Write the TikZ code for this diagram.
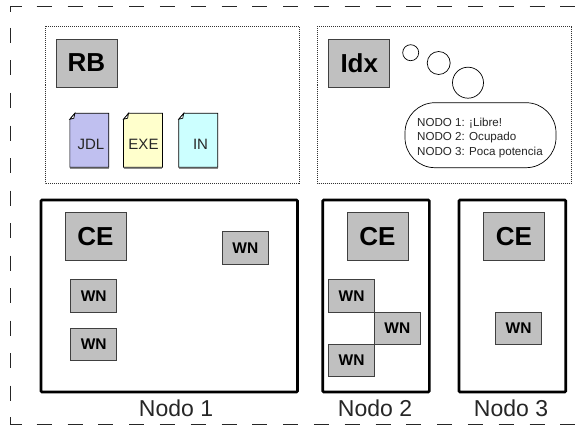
\documentclass[tikz,border=0pt]{standalone}
\usepackage{fontspec}
\setmainfont{Liberation Sans}
\definecolor{boxgray}{HTML}{C0C0C0}
\definecolor{docblue}{HTML}{C0C0F0}
\definecolor{docyellow}{HTML}{FFFFCC}
\definecolor{doccyan}{HTML}{CCFFFF}
\definecolor{inkgray}{HTML}{404040}
\tikzset{
  x=1pt,y=-1pt,
  outerbase/.style={draw=black!85,line width=0.8pt},
  outerh/.style={outerbase,dash pattern=on 15pt off 15.8pt},
  outerv/.style={outerbase,dash pattern=on 15pt off 17.5pt},
  dotframe/.style={draw=black!80,line width=0.7pt,dash pattern=on 1pt off 1pt},
  hostbox/.style={draw=black,line width=2.6pt,rounded corners=1pt},
  bigbox/.style={draw=inkgray,line width=0.8pt,fill=boxgray,inner sep=0pt,minimum width=61pt,minimum height=48pt,font=\fontsize{26}{26}\selectfont\bfseries},
  wnbox/.style={draw=inkgray,line width=0.8pt,fill=boxgray,inner sep=0pt,minimum width=46pt,minimum height=32.5pt,font=\fontsize{15.5}{15.5}\selectfont\bfseries},
  docbox/.style={inner sep=0pt,minimum width=38.5pt,minimum height=53.5pt},
  doclabel/.style={inner sep=0pt,font=\fontsize{15}{15}\selectfont,text=black!85},
  docedge/.style={draw=black,line width=0.7pt},
  docshadow/.style={draw=black!45,line width=1pt},
  hostlabel/.style={inner sep=0pt,font=\fontsize{23}{23}\selectfont,text=black!85},
  bubble/.style={draw=black,line width=0.7pt,fill=white},
  statustext/.style={inner sep=0pt,align=left,anchor=west,font=\fontsize{11.6}{14.4}\selectfont,text=black!85}
}
\newcommand{\docsheet}[3]{% name, centre, colour
  \node[docbox] (#1) at (#2) {};
  \fill[#3] ([xshift=5pt]#1.north west) -- (#1.north east) -- (#1.south east) -- (#1.south west) -- ([yshift=-6pt]#1.north west) -- cycle;
  \draw[docshadow] ([yshift=-1pt]#1.south west) -- ([yshift=-1pt]#1.south east);
  \draw[docedge] ([xshift=5pt]#1.north west) -- (#1.north east) -- (#1.south east) -- (#1.south west) -- ([yshift=-6pt]#1.north west) -- cycle;
  \draw[docedge,fill=white] ([xshift=5pt]#1.north west) -- ([xshift=4pt,yshift=-5pt]#1.north west) -- ([yshift=-6pt]#1.north west) -- cycle;
}
\begin{document}
\begin{tikzpicture}
\useasboundingbox (0,0) rectangle (576,428);
\fill[white] (0,0) rectangle (576,428);
% outer frame, cut by the right edge of the picture
\coordinate (tl) at (10.5,6.5);
\coordinate (bl) at (10.5,424);
\draw[outerbase] (21.7,6.5) -- (tl) -- (10.5,12);
\draw[outerbase] (21.7,424) -- (bl) -- (10.5,417);
\draw[outerh] (36.7,6.5) -- (576,6.5);
\draw[outerh] (36.7,424) -- (576,424);
\draw[outerv] (10.5,28) -- (10.5,401);
% service boxes
\draw[dotframe] (45,26.5) rectangle (299,183.5);
\draw[dotframe] (317.7,26.5) rectangle (571.7,183.5);
\node[bigbox] (rb) at (86.5,63) {RB};
\node[bigbox] (idx) at (359.3,63) {Idx};
% input files
\docsheet{jdl}{89.3,140.2}{docblue}
\docsheet{exe}{143,140.2}{docyellow}
\docsheet{in}{198.2,140.2}{doccyan}
\node[doclabel] (jdlt) at (91,144) {JDL};
\node[doclabel] (exet) at (143.5,144) {EXE};
\node[doclabel] (int) at (200.5,144) {IN};
% thought bubble
\node[bubble,circle,inner sep=0pt,minimum size=16pt] (c1) at (410.7,52.7) {};
\node[bubble,circle,inner sep=0pt,minimum size=23pt] (c2) at (438.7,63) {};
\node[bubble,circle,inner sep=0pt,minimum size=31pt] (c3) at (468,82.7) {};
\draw[bubble,rounded corners=30pt] (405,102.7) rectangle (556,167.7);
\node[statustext] (status) at (417,137.8) {NODO 1: ¡Libre!\\NODO 2: Ocupado\\NODO 3: Poca potencia};
% hosts
\node[hostlabel] (n1) at (176,408.5) {Nodo 1};
\node[hostlabel] (n2) at (375,408.5) {Nodo 2};
\node[hostlabel] (n3) at (511,408.5) {Nodo 3};
\draw[hostbox] (41,200) rectangle (297.5,392);
\draw[hostbox] (322.7,200) rectangle (429.3,392);
\draw[hostbox] (459,200) rectangle (565.7,392);
\node[bigbox] (ce1) at (95.5,236.7) {CE};
\node[bigbox] (ce2) at (377.5,236.7) {CE};
\node[bigbox] (ce3) at (514,236.7) {CE};
\node[wnbox] (w1) at (245.3,247.7) {WN};
\node[wnbox] (w2) at (93.7,296) {WN};
\node[wnbox] (w3) at (93.7,344.2) {WN};
\node[wnbox] (w4) at (351.6,296) {WN};
\node[wnbox] (w5) at (397.3,328.5) {WN};
\node[wnbox] (w6) at (351.6,360.5) {WN};
\node[wnbox] (w7) at (518.6,328.5) {WN};
\end{tikzpicture}
\end{document}
